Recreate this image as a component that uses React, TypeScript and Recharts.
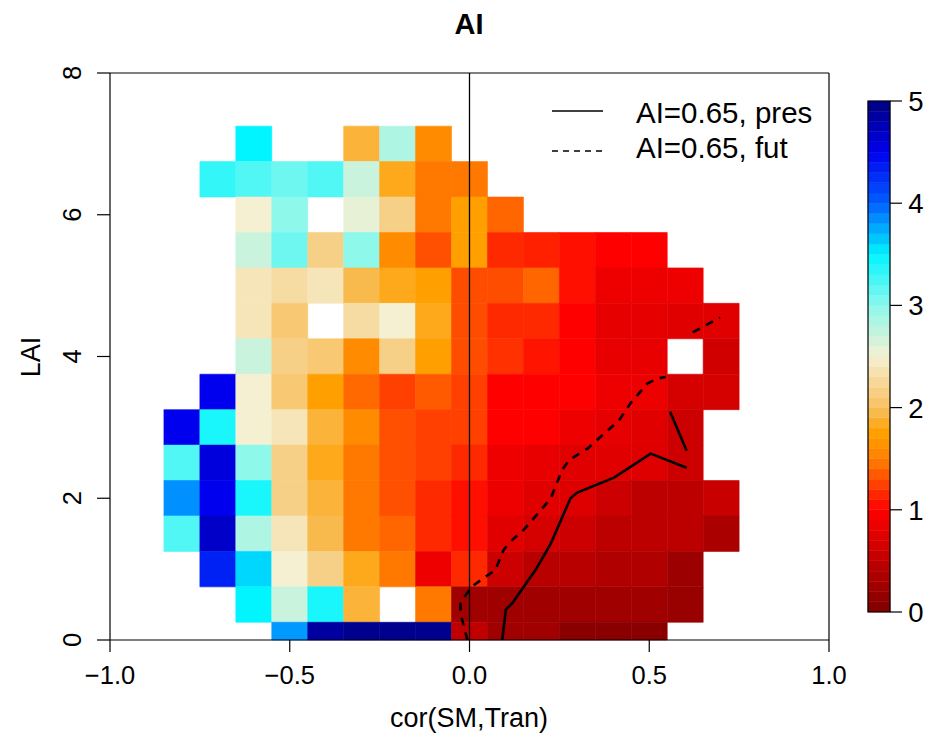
import React from "react";
import { ComposedChart, XAxis, YAxis, ReferenceArea, ReferenceLine, Scatter } from "recharts";

// ---- data ----
const colCenters = [-0.8, -0.7, -0.6, -0.5, -0.4, -0.3, -0.2, -0.1, 0.0, 0.1, 0.2, 0.3, 0.4, 0.5, 0.6, 0.7];
const rowCenters = [7.0, 6.5, 6.0, 5.5, 5.0, 4.5, 4.0, 3.5, 3.0, 2.5, 2.0, 1.5, 1.0, 0.5, 0.0];
const N = null;
const aiGrid: (number | null)[][] = [
  [N, N, 3.5, N, N, 1.9, 2.84, 1.59, N, N, N, N, N, N, N, N],
  [N, 3.32, 3.21, 3.11, 3.21, 2.71, 1.82, 1.47, 1.47, N, N, N, N, N, N, N],
  [N, N, 2.5, 2.99, N, 2.57, 2.17, 1.47, 1.75, 1.4, N, N, N, N, N, N],
  [N, N, 2.71, 3.11, 2.17, 2.99, 1.59, 1.31, 1.75, 1.16, 1.125, 1.06, 1.0, 1.0, N, N],
  [N, N, 2.39, 2.29, 2.39, 1.95, 1.82, 1.75, 1.3, 1.3, 1.4, 1.06, 0.87, 0.87, 0.87, N],
  [N, N, 2.39, 2.08, N, 2.29, 2.5, 1.82, 1.3, 1.16, 1.16, 1.0, 0.8, 0.8, 0.76, 0.76],
  [N, N, 2.71, 2.17, 2.08, 1.59, 2.17, 1.75, 1.3, 1.19, 1.08, 1.0, 0.82, 0.82, N, 0.63],
  [N, 4.5, 2.5, 2.08, 1.75, 1.41, 1.25, 1.35, 1.25, 1.0, 1.0, 1.0, 0.87, 0.85, 0.67, 0.67],
  [4.5, 3.41, 2.5, 2.39, 1.9, 1.59, 1.31, 1.25, 1.25, 1.0, 1.0, 0.87, 0.8, 0.76, 0.6, N],
  [3.21, 4.58, 2.99, 2.17, 1.82, 1.47, 1.31, 1.25, 1.16, 0.87, 0.82, 0.76, 0.76, 0.74, 0.6, N],
  [3.84, 4.5, 3.41, 2.17, 1.9, 1.47, 1.31, 1.16, 1.06, 0.87, 0.76, 0.74, 0.6, 0.47, 0.47, 0.57],
  [3.21, 4.67, 2.84, 2.39, 1.95, 1.47, 1.4, 1.16, 1.06, 0.76, 0.67, 0.6, 0.47, 0.47, 0.47, 0.33],
  [N, 4.33, 3.6, 2.5, 2.17, 1.82, 1.47, 0.87, 1.16, 0.6, 0.44, 0.44, 0.38, 0.38, 0.22, N],
  [N, N, 3.5, 2.71, 3.41, 1.9, N, 1.47, 0.25, 0.25, 0.25, 0.25, 0.25, 0.25, 0.2, N],
  [N, N, N, 3.81, 4.85, 4.93, 4.93, 4.93, 0.5, 0.25, 0.25, 0.08, 0.08, 0.08, N, N],
];

const presMain = [
  { x: 0.091, y: 0 }, { x: 0.101, y: 0.43 }, { x: 0.119, y: 0.52 }, { x: 0.184, y: 0.99 },
  { x: 0.226, y: 1.36 }, { x: 0.281, y: 2.0 }, { x: 0.3, y: 2.08 }, { x: 0.402, y: 2.29 },
  { x: 0.504, y: 2.63 }, { x: 0.604, y: 2.43 },
];
const presPiece = [{ x: 0.558, y: 3.22 }, { x: 0.604, y: 2.67 }];
const futMain = [
  { x: -0.006, y: 0 }, { x: -0.025, y: 0.38 }, { x: -0.025, y: 0.52 }, { x: -0.011, y: 0.63 },
  { x: 0.008, y: 0.76 }, { x: 0.072, y: 0.99 }, { x: 0.095, y: 1.27 }, { x: 0.114, y: 1.39 },
  { x: 0.15, y: 1.55 }, { x: 0.198, y: 1.83 }, { x: 0.226, y: 2.0 }, { x: 0.258, y: 2.4 },
  { x: 0.277, y: 2.54 }, { x: 0.328, y: 2.7 }, { x: 0.416, y: 3.1 }, { x: 0.448, y: 3.34 },
  { x: 0.495, y: 3.62 }, { x: 0.523, y: 3.69 }, { x: 0.546, y: 3.71 },
];
const futPiece = [{ x: 0.621, y: 4.34 }, { x: 0.697, y: 4.55 }];

const xTicks = [-1, -0.5, 0, 0.5, 1];
const yTicks = [0, 2, 4, 6, 8];
const cbTicks = [0, 1, 2, 3, 4, 5];
const cbLevels = Array.from({ length: 50 }, (_, i) => i / 10);

// ---- palette ----
const STOPS: [number, number[]][] = [
  [0, [128, 0, 0]],
  [1.0, [255, 0, 0]],
  [1.5, [255, 128, 0]],
  [1.75, [255, 160, 0]],
  [2.0, [248, 192, 96]],
  [2.5, [245, 240, 210]],
  [3.0, [140, 248, 236]],
  [3.5, [0, 245, 255]],
  [4.0, [0, 96, 255]],
  [4.5, [0, 0, 238]],
  [5.0, [0, 0, 128]],
];
function colorFor(v: number): string {
  const t = Math.max(0, Math.min(5, v));
  for (let i = 0; i < STOPS.length - 1; i++) {
    const [a, ca] = STOPS[i];
    const [b, cb] = STOPS[i + 1];
    if (t >= a && t <= b) {
      const f = (t - a) / (b - a);
      const c = ca.map((u, k) => Math.round(u + (cb[k] - u) * f));
      return `rgb(${c[0]},${c[1]},${c[2]})`;
    }
  }
  return "rgb(0,0,128)";
}

const FONT = "'Liberation Sans', Arial, Helvetica, sans-serif";
const fmtX = (v: number) => (v < 0 ? "\u2212" + Math.abs(v).toFixed(1) : v.toFixed(1));

const XTick = (p: any) => (
  <text x={p.x} y={684} textAnchor="middle" fontSize={25.5} fontFamily={FONT} fill="#000">
    {fmtX(p.payload.value)}
  </text>
);
const YTick = (p: any) => (
  <text transform={`translate(81, ${p.y}) rotate(-90)`} textAnchor="middle" fontSize={25.5} fontFamily={FONT} fill="#000">
    {p.payload.value}
  </text>
);
const CbTick = (p: any) => (
  <text x={916} y={p.y + 10} textAnchor="middle" fontSize={27.5} fontFamily={FONT} fill="#000">
    {p.payload.value}
  </text>
);
const noShape = () => <g />;

export default function App() {
  const cells: any[] = [];
  rowCenters.forEach((yc, r) => {
    colCenters.forEach((xc, c) => {
      const v = aiGrid[r][c];
      if (v === null) return;
      const fill = colorFor(v);
      cells.push(
        <ReferenceArea
          key={`c${r}-${c}`}
          x1={xc - 0.05}
          x2={xc + 0.05}
          y1={Math.max(0, yc - 0.25)}
          y2={yc + 0.25}
          fill={fill}
          fillOpacity={1}
          stroke={fill}
          strokeWidth={0.6}
          ifOverflow="visible"
        />
      );
    });
  });

  return (
    <div style={{ position: "absolute", left: 0, top: 0, width: 936, height: 742, background: "#fff", fontFamily: FONT }}>
      <ComposedChart width={936} height={742} margin={{ top: 73, right: 107, bottom: 62, left: 50 }}>
        <XAxis
          type="number"
          dataKey="x"
          domain={[-1, 1]}
          ticks={xTicks}
          allowDataOverflow
          height={40}
          tickSize={12}
          tick={<XTick />}
          axisLine={{ stroke: "#000", strokeWidth: 1.2 }}
          tickLine={{ stroke: "#000", strokeWidth: 1.2 }}
        />
        <YAxis
          type="number"
          dataKey="y"
          domain={[0, 8]}
          ticks={yTicks}
          allowDataOverflow
          width={60}
          tickSize={13}
          tick={<YTick />}
          axisLine={{ stroke: "#000", strokeWidth: 1.2 }}
          tickLine={{ stroke: "#000", strokeWidth: 1.2 }}
        />
        {cells}
        <ReferenceLine x={0} stroke="#000" strokeWidth={1.3} ifOverflow="visible" />
        <ReferenceLine y={8} stroke="#000" strokeWidth={1.2} ifOverflow="visible" />
        <ReferenceLine x={1} stroke="#000" strokeWidth={1.2} ifOverflow="visible" />
        <Scatter data={presMain} shape={noShape} line={{ stroke: "#000", strokeWidth: 2.6 }} lineType="joint" isAnimationActive={false} />
        <Scatter data={presPiece} shape={noShape} line={{ stroke: "#000", strokeWidth: 2.6 }} lineType="joint" isAnimationActive={false} />
        <Scatter data={futMain} shape={noShape} line={{ stroke: "#000", strokeWidth: 2.6, strokeDasharray: "8 7" }} lineType="joint" isAnimationActive={false} />
        <Scatter data={futPiece} shape={noShape} line={{ stroke: "#000", strokeWidth: 2.6, strokeDasharray: "8 7" }} lineType="joint" isAnimationActive={false} />
      </ComposedChart>

      <div style={{ position: "absolute", left: 0, top: 0 }}>
        <ComposedChart width={936} height={742} margin={{ top: 101, right: 6, bottom: 130, left: 868 }}>
          <XAxis type="number" dataKey="x" domain={[0, 1]} hide allowDataOverflow />
          <YAxis
            type="number"
            dataKey="y"
            orientation="right"
            domain={[0, 5]}
            ticks={cbTicks}
            allowDataOverflow
            width={40}
            tickSize={12}
            tick={<CbTick />}
            axisLine={false}
            tickLine={{ stroke: "#000", strokeWidth: 1.2 }}
          />
          {cbLevels.map((lv) => (
            <ReferenceArea
              key={`cb${lv}`}
              x1={0}
              x2={1}
              y1={lv}
              y2={lv + 0.1}
              fill={colorFor(lv + 0.05)}
              fillOpacity={1}
              stroke={colorFor(lv + 0.05)}
              strokeWidth={0.5}
              ifOverflow="visible"
            />
          ))}
          <ReferenceArea x1={0} x2={1} y1={0} y2={5} fill="none" fillOpacity={0} stroke="#000" strokeWidth={1.2} ifOverflow="visible" />
        </ComposedChart>
      </div>

      <svg width={936} height={742} style={{ position: "absolute", left: 0, top: 0, pointerEvents: "none" }}>
        <text x={469} y={34} textAnchor="middle" fontSize={29} fontWeight="bold" fontFamily={FONT}>AI</text>
        <text x={469} y={727} textAnchor="middle" fontSize={27} fontFamily={FONT}>cor(SM,Tran)</text>
        <text transform="translate(40, 357) rotate(-90)" textAnchor="middle" fontSize={27} fontFamily={FONT}>LAI</text>
        <line x1={552} x2={603} y1={111} y2={111} stroke="#000" strokeWidth={1.5} />
        <line x1={552} x2={603} y1={151} y2={151} stroke="#000" strokeWidth={1.5} strokeDasharray="6 5" />
        <text x={636} y={123} fontSize={29.5} fontFamily={FONT}>AI=0.65, pres</text>
        <text x={636} y={158} fontSize={29.5} fontFamily={FONT}>AI=0.65, fut</text>
      </svg>
    </div>
  );
}
